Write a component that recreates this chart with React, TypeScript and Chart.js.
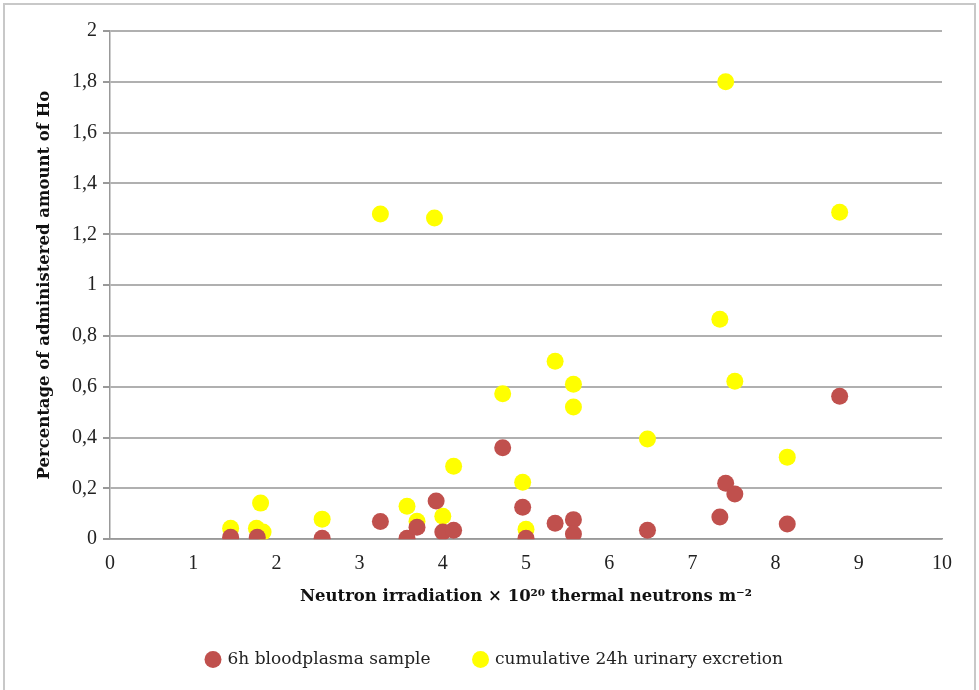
import React, { useEffect, useRef } from "react";
import { Chart, registerables } from "chart.js";

Chart.register(...registerables);

const plasmaX = [1.45, 1.77, 2.55, 3.25, 3.57, 3.69, 3.92, 4.0, 4.13, 4.72, 4.96, 5.0, 5.35, 5.57, 5.57, 6.46, 7.33, 7.4, 7.51, 8.14, 8.77];
const plasmaY = [0.008, 0.008, 0.004, 0.07, 0.004, 0.047, 0.15, 0.028, 0.035, 0.36, 0.126, 0.004, 0.063, 0.077, 0.02, 0.035, 0.087, 0.22, 0.178, 0.06, 0.563];

const urineX = [1.45, 1.76, 1.81, 1.84, 2.55, 3.25, 3.57, 3.69, 3.9, 4.0, 4.13, 4.72, 4.96, 5.0, 5.35, 5.57, 5.57, 6.46, 7.33, 7.4, 7.51, 8.14, 8.77];
const urineY = [0.043, 0.043, 0.142, 0.028, 0.079, 1.28, 0.13, 0.071, 1.264, 0.09, 0.287, 0.572, 0.224, 0.039, 0.7, 0.61, 0.52, 0.394, 0.866, 1.8, 0.622, 0.323, 1.287];

const seriesNames = ["6h bloodplasma sample", "cumulative 24h urinary excretion"];
const xTitle = "Neutron irradiation \u00d7 10\u00b2\u2070 thermal neutrons m\u207b\u00b2";
const yTitle = "Percentage of administered amount of Ho";

const TICKFONT = "'Liberation Serif', 'DejaVu Serif', serif";
const FONT = "'DejaVu Serif', 'Liberation Serif', serif";

export default function App() {
  const ref = useRef<HTMLCanvasElement | null>(null);
  useEffect(() => {
    if (!ref.current) return;
    const chart = new Chart(ref.current, {
      type: "scatter",
      data: {
        datasets: [
          {
            label: seriesNames[0],
            data: plasmaX.map((x, i) => ({ x, y: plasmaY[i] })),
            backgroundColor: "#c0504d",
            borderColor: "#b04440",
            borderWidth: 0,
            pointRadius: 8.5,
          },
          {
            label: seriesNames[1],
            data: urineX.map((x, i) => ({ x, y: urineY[i] })),
            backgroundColor: "#ffff00",
            borderColor: "#ffff00",
            borderWidth: 0,
            pointRadius: 8.5,
          },
        ],
      },
      options: {
        animation: false,
        responsive: false,
        layout: { padding: { left: 30, right: 19, top: 31, bottom: 12 } },
        plugins: {
          tooltip: { enabled: false },
          legend: {
            position: "bottom",
            labels: {
              usePointStyle: true,
              pointStyle: "circle",
              boxWidth: 12,
              boxHeight: 12,
              padding: 44,
              color: "#222",
              font: { family: FONT, size: 17 },
            },
          },
        },
        scales: {
          x: {
            type: "linear",
            min: 0,
            max: 10,
            ticks: { stepSize: 1, color: "#222", padding: 6, font: { family: TICKFONT, size: 20 } },
            grid: { display: false, drawTicks: true, tickLength: 7, tickColor: "#999" },
            border: { display: true, color: "#999", width: 1.5 },
            title: {
              display: true,
              text: xTitle,
              color: "#111",
              font: { family: FONT, size: 16.5, weight: "bold" },
              padding: { top: 5, bottom: 0 },
            },
          },
          y: {
            type: "linear",
            min: 0,
            max: 2,
            afterFit: (s: any) => {
              s.width = 80;
            },
            ticks: {
              stepSize: 0.2,
              color: "#222",
              padding: 6,
              font: { family: TICKFONT, size: 20 },
              callback: (v: any) => String(Math.round(Number(v) * 10) / 10).replace(".", ","),
            },
            grid: { color: "#b0b0b0", lineWidth: 2, tickLength: 7, tickColor: "#999" },
            border: { display: true, color: "#999", width: 1.5 },
            title: {
              display: true,
              text: yTitle,
              color: "#111",
              font: { family: FONT, size: 16.5, weight: "bold" },
              padding: { top: 5, bottom: 0 },
            },
          },
          yPad: {
            type: "linear",
            position: "right",
            display: true,
            min: 0,
            max: 2,
            afterFit: (s: any) => {
              s.width = 18;
            },
            ticks: { display: false },
            grid: { display: false, drawTicks: false },
            border: { display: false },
          },
        },
      },
    });
    return () => chart.destroy();
  }, []);
  return (
    <div style={{ position: "fixed", left: 0, top: 0, width: 979, height: 690, background: "#fff" }}>
      <div
        style={{
          position: "absolute",
          left: 3,
          top: 3,
          width: 973,
          height: 690,
          borderTop: "2px solid #c8c8c8",
          borderLeft: "2px solid #c8c8c8",
          borderRight: "2px solid #c8c8c8",
          boxSizing: "border-box",
        }}
      />
      <canvas ref={ref} width={979} height={690} style={{ position: "absolute", left: 0, top: 0 }} />
    </div>
  );
}
